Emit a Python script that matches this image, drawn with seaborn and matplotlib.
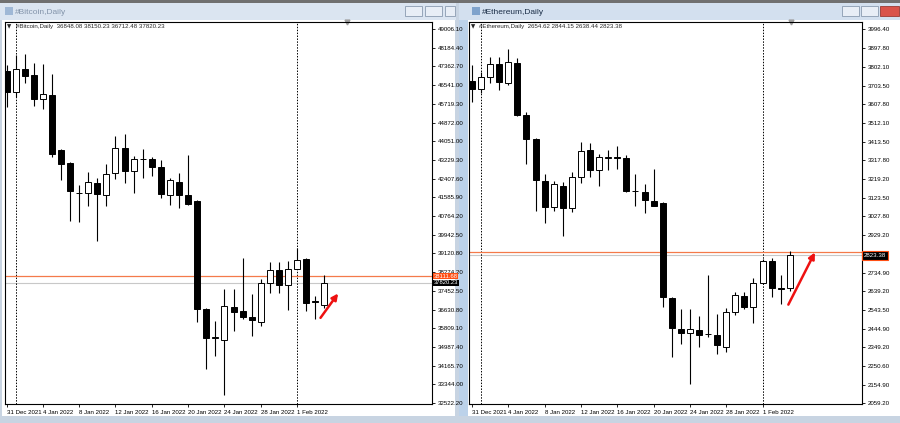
import numpy as np
import pandas as pd
import matplotlib
matplotlib.use("Agg")
import matplotlib.pyplot as plt
import seaborn as sns
from matplotlib.patches import Rectangle, FancyArrowPatch
import matplotlib.transforms as mtransforms

# daily candles, 31 Dec 2021 .. 4 Feb 2022
days = pd.date_range("2021-12-31", "2022-02-04", freq="D")

btc_open = [47161, 46238, 47248, 46985, 45930, 46106, 43689, 43118, 41780, 41756,
            42239, 41668, 42679, 43777, 42766, 43294, 43294, 42942, 41668, 42283,
            41668, 41404, 36659, 35400, 35297, 36747, 36571, 36307, 36088, 37801,
            38373, 37713, 38416, 38856, 37010, 36848.08]
btc_high = [47400, 47864, 47908, 47512, 47468, 47029, 43733, 43162, 42151, 42722,
            42459, 43074, 44304, 44392, 43426, 43733, 43382, 43250, 42459, 42679,
            43470, 41448, 36700, 36132, 37537, 37537, 38900, 37318, 37977, 38724,
            38724, 38768, 39339, 38900, 37230, 38150.23]
btc_low = [45579, 46018, 46633, 45623, 45491, 43382, 42371, 40526, 40482, 41185,
           39647, 41185, 42415, 42239, 41756, 42459, 42547, 41536, 41229, 41097,
           41229, 36088, 34023, 34594, 32880, 35692, 36220, 35473, 35912, 37362,
           37362, 36615, 38416, 36571, 36220, 36712.48]
btc_close = [46238, 47248, 46941, 45930, 46150, 43514, 43074, 41844, 41760, 42283,
             41712, 42635, 43777, 42766, 43294, 43272, 42942, 41712, 42371, 41668,
             41273, 36659, 35385, 35430, 36791, 36527, 36307, 36176, 37801, 38373,
             37713, 38416, 38812, 36922, 36990, 37820.23]

eth_open = [3727, 3686, 3748, 3815, 3717, 3820, 3551, 3427, 3209, 3074,
            3183, 3069, 3230, 3370, 3266, 3331, 3333, 3328, 3159, 3152,
            3105, 3095, 2603, 2442, 2422, 2437, 2418, 2411, 2349, 2530,
            2613, 2556, 2681, 2795, 2655, 2654.62]
eth_high = [3810, 3774, 3851, 3851, 3893, 3846, 3566, 3430, 3245, 3209,
            3204, 3256, 3411, 3406, 3349, 3370, 3390, 3344, 3245, 3194,
            3271, 3100, 2608, 2546, 2546, 2510, 2722, 2520, 2551, 2634,
            2634, 2707, 2805, 2810, 2722, 2844.15]
eth_low = [3618, 3665, 3717, 3680, 3706, 3545, 3297, 3054, 2992, 3054,
           2924, 3048, 3199, 3230, 3183, 3266, 3271, 3152, 3080, 3043,
           3080, 2556, 2297, 2365, 2158, 2349, 2401, 2313, 2323, 2515,
           2546, 2474, 2676, 2608, 2572, 2638.44]
eth_close = [3686, 3748, 3815, 3722, 3825, 3551, 3427, 3214, 3074, 3193,
             3069, 3230, 3364, 3266, 3333, 3335, 3328, 3157, 3157, 3111,
             3080, 2608, 2448, 2422, 2442, 2411, 2415, 2359, 2530, 2618,
             2556, 2681, 2795, 2655, 2652, 2823.38]

btc_ticks = ["49006.10", "48184.40", "47362.70", "46541.00", "45719.30", "44872.00",
             "44051.00", "43229.30", "42407.60", "41585.90", "40764.20", "39942.50",
             "39120.80", "38274.20", "37452.50", "36630.80", "35809.10", "34987.40",
             "34165.70", "33344.00", "32522.20"]
eth_ticks = ["3996.40", "3897.80", "3802.10", "3703.50", "3607.80", "3512.10",
             "3413.50", "3317.80", "3219.20", "3123.50", "3027.80", "2929.20",
             "2734.90", "2639.20", "2543.50", "2444.90", "2349.20", "2250.60",
             "2154.90", "2059.20"]
date_labels = ["31 Dec 2021", "4 Jan 2022", "8 Jan 2022", "12 Jan 2022", "16 Jan 2022",
               "20 Jan 2022", "24 Jan 2022", "28 Jan 2022", "1 Feb 2022"]

btc_hline = 38111.68
eth_hline = 2841.0

sns.set_style("white")
plt.rcParams["font.family"] = ["Liberation Sans", "DejaVu Sans"]
FS = 4.4

W, H = 900, 423
fig = plt.figure(figsize=(9, 4.23), dpi=100)
fig.patch.set_facecolor("#c8d4e2")


def box(x, y, w, h, color, **kw):
    fig.patches.append(Rectangle((x / W, 1 - (y + h) / H), w / W, h / H,
                                 transform=fig.transFigure, facecolor=color, zorder=-5,
                                 edgecolor=kw.pop("ec", "none"), lw=kw.pop("lw", 0), **kw))


# window chrome
box(0, 0, 900, 3, "#707070")
box(0, 3, 456, 17, "#dbe5f1")
box(459, 3, 441, 17, "#d3e0ef")
box(459, 20, 9, 396, "#bcd2ea")
box(2, 20, 453, 396, "white")
box(468, 20, 432, 396, "white")
box(5, 7, 8, 8, "#9fb8d6")
box(472, 7, 8, 8, "#7fa3cc")
for bx in (405, 425):
    box(bx, 6, 17, 10, "#e8eef6", ec="#8a9bb0", lw=0.6)
box(445, 6, 10, 10, "#e8eef6", ec="#8a9bb0", lw=0.6)
for bx in (842, 861):
    box(bx, 6, 17, 10, "#e8eef6", ec="#8a9bb0", lw=0.6)
box(880, 6, 19, 10, "#d9534a", ec="#9a3a33", lw=0.6)
fig.text(15 / W, 1 - 12 / H, "#Bitcoin,Daily", fontsize=6, color="#8394aa", va="center")
fig.text(482 / W, 1 - 12 / H, "#Ethereum,Daily", fontsize=6, color="#1c2f48", va="center")


def candles(ax, o, h, l, c):
    o, h, l, c = map(np.asarray, (o, h, l, c))
    x = np.arange(len(o))
    ax.vlines(x, l, h, color="black", lw=0.8, zorder=2)
    up = c >= o
    height = np.maximum(np.abs(c - o), (h.max() - l.min()) * 0.0005)
    ax.bar(x, height, bottom=np.minimum(o, c), width=0.66,
           color=np.where(up, "white", "black"), edgecolor="black", lw=0.7, zorder=3)


def panel(rect, xlim, ylim, o, h, l, c, ticks, header, hline, mark_x):
    ax = fig.add_axes(rect)
    ax.set_facecolor("white")
    candles(ax, o, h, l, c)
    ax.set_xlim(*xlim)
    ax.set_ylim(*ylim)
    for d in (1, 32):
        ax.axvline(d, color="black", lw=0.7, ls=(0, (1.5, 1.5)), zorder=1)
    ax.axhline(hline, color="#f47a4a", lw=0.9, zorder=1)
    ax.axhline(c[-1], color="#c8c8c8", lw=0.8, zorder=0.5)
    ax.yaxis.tick_right()
    ax.set_yticks([float(t) for t in ticks])
    ax.set_yticklabels(ticks)
    ax.set_xticks(np.arange(0, 33, 4))
    ax.set_xticklabels(date_labels, ha="left")
    ax.tick_params(axis="both", labelsize=FS, length=2.5, width=0.6, pad=1.5,
                   colors="black", right=True, bottom=True, left=False)
    for s in ax.spines.values():
        s.set_color("black")
        s.set_linewidth(0.8)
    ax.text(0.004, 0.995, "\u25bc", transform=ax.transAxes, fontsize=4,
            va="top", ha="left", family="DejaVu Sans")
    ax.text(0.026, 0.995, header, transform=ax.transAxes, fontsize=FS,
            va="top", ha="left")
    ax.plot([mark_x], [ylim[1]], marker="v", color="#a0a0a0", ms=3.5, clip_on=False)
    return ax


axL = panel([5 / W, 1 - 404 / H, 427 / W, 382 / H], (-0.17, 46.86), (32478, 49314),
            btc_open, btc_high, btc_low, btc_close, btc_ticks,
            "#Bitcoin,Daily  36848.08 38150.23 36712.48 37820.23", btc_hline, 37.5)
axR = panel([469 / W, 1 - 404 / H, 393 / W, 382 / H], (-0.33, 42.95), (2054, 4033),
            eth_open, eth_high, eth_low, eth_close, eth_ticks,
            "#Ethereum,Daily  2654.62 2844.15 2638.44 2823.38", eth_hline, 35.1)

# price labels on the right scale
tl = mtransforms.blended_transform_factory(axL.transAxes, axL.transData)
axL.text(1.004, btc_hline, "38111.68", transform=tl, fontsize=4.2, color="white", va="center",
         bbox=dict(boxstyle="square,pad=0.12", fc="#ff4f14", ec="none"), clip_on=False)
axL.text(1.004, btc_close[-1], "37820.23", transform=tl, fontsize=4.2, color="white",
         va="center", bbox=dict(boxstyle="square,pad=0.12", fc="black", ec="none"), clip_on=False)
tr = mtransforms.blended_transform_factory(axR.transAxes, axR.transData)
axR.text(1.004, eth_close[-1], "2823.38", transform=tr, fontsize=FS, color="white",
         va="center", bbox=dict(boxstyle="square,pad=0.3", fc="black", ec="#ff4f14", lw=0.8),
         clip_on=False)

# red arrows
axL.add_patch(FancyArrowPatch((34.4, 36176), (36.7, 37449), arrowstyle="-|>",
                              mutation_scale=9, color="#ee1111", lw=1.8, zorder=5))
axR.add_patch(FancyArrowPatch((34.7, 2556), (37.9, 2852), arrowstyle="-|>",
                              mutation_scale=9, color="#ee1111", lw=1.8, zorder=5))

fig.savefig("out.png", dpi=100, facecolor=fig.get_facecolor())
